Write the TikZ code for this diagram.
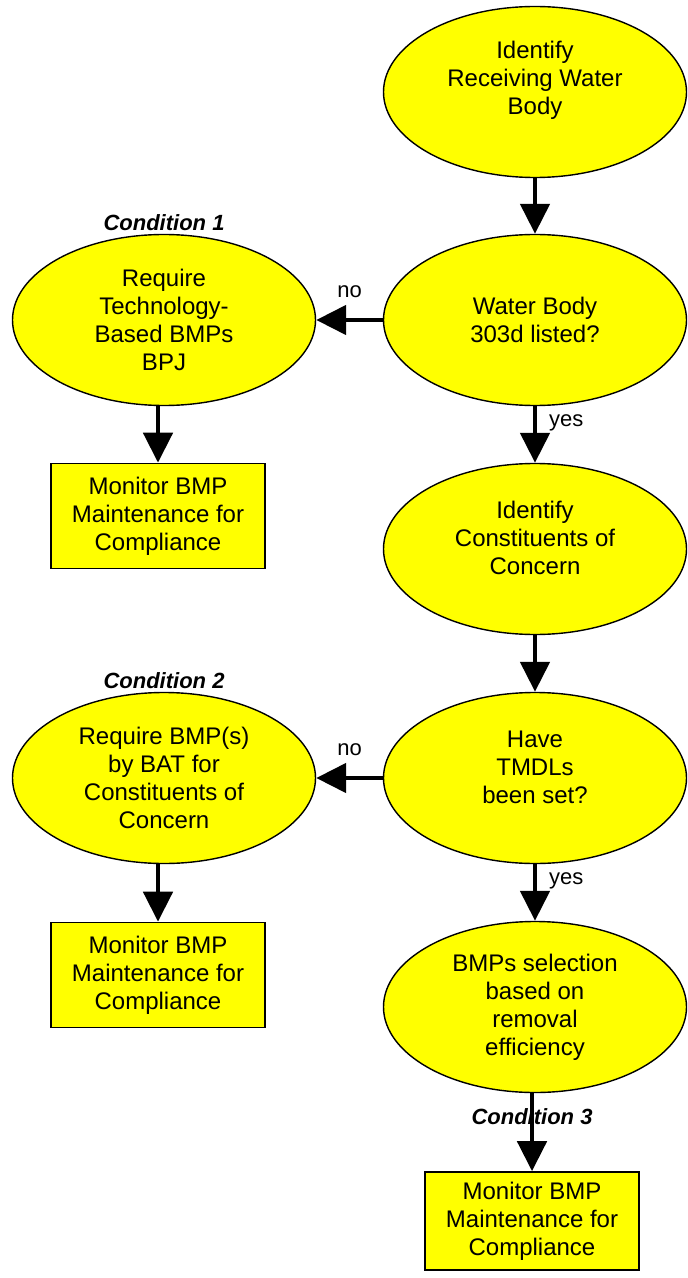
\documentclass[tikz,border=0pt]{standalone}
\usepackage{fontspec}
\setmainfont{Liberation Sans}
\usetikzlibrary{shapes.geometric,arrows.meta,positioning}
\definecolor{stepyellow}{RGB}{255,255,0}
\tikzset{
  oval/.style={draw, ellipse, fill=stepyellow, line width=0.7pt, minimum width=151.5pt,
    minimum height=85.5pt, inner sep=1pt, align=center, font=\fontsize{12}{14}\selectfont},
  box/.style={draw, rectangle, fill=stepyellow, line width=0.8pt, minimum width=107pt,
    minimum height=52.5pt, align=center, font=\fontsize{12}{14}\selectfont},
  flow/.style={-{Triangle[width=14.5pt,length=15pt]}, line width=2.4pt},
  cond/.style={font=\fontsize{11}{13}\selectfont\bfseries\itshape},
  tag/.style={font=\fontsize{11}{13}\selectfont},
}
\begin{document}
\begin{tikzpicture}[x=0.5pt, y=-0.5pt]
\useasboundingbox (0,0) rectangle (688,1278);
% right column
\node (e1) [oval] at (535,92) {Identify\\Receiving Water\\Body\\\mbox{}};
\node (e2) [oval] at (535,320) {Water Body\\303d listed?};
\node (e3) [oval] at (535,549) {Identify\\Constituents of\\Concern\\[-3pt]\mbox{}};
\node (e4) [oval] at (535,778) {Have\\TMDLs\\been set?\\[-3pt]\mbox{}};
\node (e5) [oval] at (535,1007) {BMPs selection\\based on\\removal\\efficiency};
\node (b3) [box, minimum height=49pt] at (532,1221) {Monitor BMP\\Maintenance for\\Compliance};
% left column
\node (l1) [oval] at (164,320) {Require\\Technology-\\Based BMPs\\BPJ};
\node (b1) [box] at (158,516) {Monitor BMP\\Maintenance for\\Compliance};
\node (l2) [oval] at (164,778) {Require BMP(s)\\by BAT for\\Constituents of\\Concern};
\node (b2) [box] at (158,975) {Monitor BMP\\Maintenance for\\Compliance};
\node (c1) [cond, above=-2pt of l1] {Condition 1};
\node (c2) [cond, above=-2pt of l2] {Condition 2};
% arrows
\draw [flow] (e1) -- (e2);
\draw [flow] (e2) -- node [tag, right=2.5pt, pos=0.3] {yes} (e3);
\draw [flow] (e3) -- (e4);
\draw [flow] (e4) -- node [tag, right=2.5pt, pos=0.3] {yes} (e5);
\draw [flow] (e5.south -| b3.north) -- node [cond, pos=0.3] {Condition 3} (b3.north);
\draw [flow] (e2) -- node [tag, above=6.5pt] {no} (l1);
\draw [flow] (e4) -- node [tag, above=6.5pt] {no} (l2);
\draw [flow] (l1.south -| b1.north) -- (b1.north);
\draw [flow] (l2.south -| b2.north) -- (b2.north);
\end{tikzpicture}
\end{document}
